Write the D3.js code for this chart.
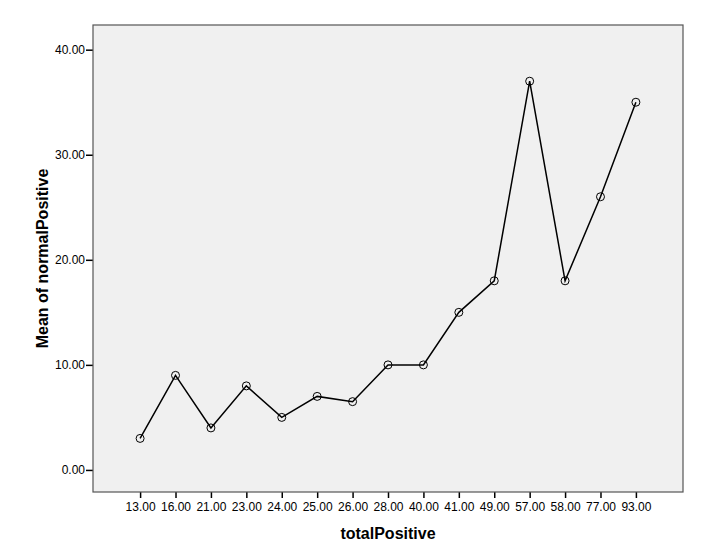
<!DOCTYPE html>
<html>
<head>
<meta charset="utf-8">
<script src="https://cdn.jsdelivr.net/npm/d3@7"></script>
<style>
  body { margin: 0; background: #fff; }
  text { font-family: "Liberation Sans", Arial, sans-serif; fill: #000; }
</style>
</head>
<body>
<div id="canvas"></div>
<script>
// data
var categories = ['13.00','16.00','21.00','23.00','24.00','25.00','26.00','28.00','40.00','41.00','49.00','57.00','58.00','77.00','93.00'];
var meanValues = [3, 9, 4, 8, 5, 7, 6.5, 10, 10, 15, 18, 37, 18, 26, 35];
var yTicks = [0, 10, 20, 30, 40];

var outerWidth = 716, outerHeight = 550;
var m = {t:25, r:33, b:58, l:93};
var w = outerWidth - m.l - m.r,
    h = outerHeight - m.t - m.b;

var svg = d3.select('#canvas')
    .append('svg')
    .attr('width', outerWidth)
    .attr('height', outerHeight);

var plot = svg.append('g')
    .attr('transform', 'translate(' + m.l + ',' + m.t + ')');

// scales
var scaleX = d3.scalePoint()
    .domain(categories)
    .range([0, w])
    .padding(1.33);

var scaleY = d3.scaleLinear()
    .domain([-2.1, 42.35])
    .range([h, 0]);

// background
plot.append('rect')
    .attr('width', w)
    .attr('height', h)
    .attr('fill', '#f0f0f0');

// axes
var axisX = d3.axisBottom(scaleX).tickSizeOuter(0).tickSize(6).tickPadding(4);
var axisY = d3.axisLeft(scaleY).tickValues(yTicks).tickSizeOuter(0).tickSize(7).tickPadding(1)
    .tickFormat(d3.format('.2f'));

var gx = plot.append('g')
    .attr('transform', 'translate(0,' + h + ')')
    .call(axisX);
var gy = plot.append('g').call(axisY);

[gx, gy].forEach(function(g) {
    g.select('.domain').remove();
    g.selectAll('line').attr('stroke', '#000').attr('stroke-width', 1.5);
    g.selectAll('text').style('font-size', '12px').style('font-family', '"Liberation Sans", Arial, sans-serif');
});

// frame
plot.append('rect')
    .attr('width', w)
    .attr('height', h)
    .attr('fill', 'none')
    .attr('stroke', '#555')
    .attr('stroke-width', 1.2);

// line
var line = d3.line()
    .x(function(d, i) { return scaleX(categories[i]); })
    .y(function(d) { return scaleY(d); });

plot.append('path')
    .datum(meanValues)
    .attr('d', line)
    .attr('fill', 'none')
    .attr('stroke', '#000')
    .attr('stroke-width', 1.5);

plot.selectAll('circle')
    .data(meanValues)
    .enter()
    .append('circle')
    .attr('cx', function(d, i) { return scaleX(categories[i]); })
    .attr('cy', function(d) { return scaleY(d); })
    .attr('r', 4)
    .attr('fill', 'none')
    .attr('stroke', '#000')
    .attr('stroke-width', 1);

// axis titles
svg.append('text')
    .attr('x', m.l + w / 2)
    .attr('y', 539)
    .attr('text-anchor', 'middle')
    .style('font-size', '16px')
    .style('font-weight', 'bold')
    .text('totalPositive');

svg.append('text')
    .attr('transform', 'translate(48,' + (m.t + h / 2) + ') rotate(-90)')
    .attr('text-anchor', 'middle')
    .style('font-size', '16px')
    .style('font-weight', 'bold')
    .text('Mean of normalPositive');
</script>
</body>
</html>
